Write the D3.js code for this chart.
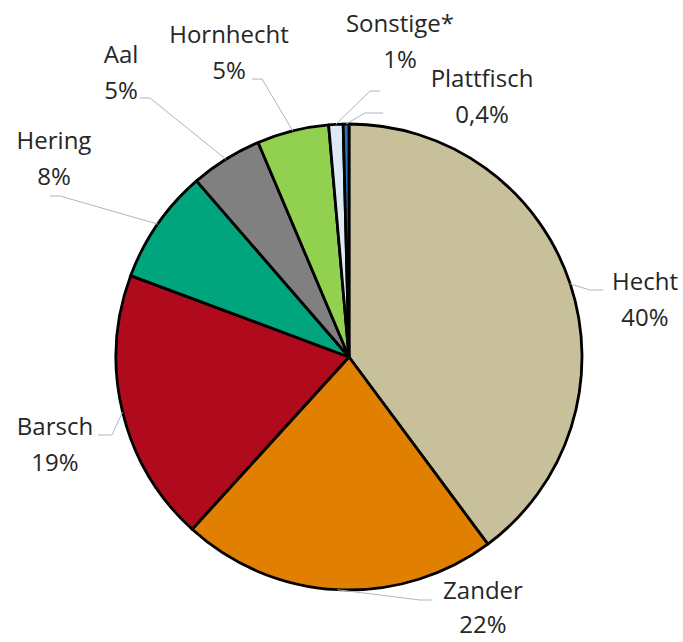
<!DOCTYPE html>
<html>
<head>
<meta charset="utf-8" />
<title>Fischarten</title>
<script src="https://d3js.org/d3.v7.min.js"></script>
<style>
  body { margin: 0; background: #fff; }
  text { font-family: "Open Sans", sans-serif; font-size: 24px; fill: #262626; }
</style>
</head>
<body>
<div id="chart"></div>
<script>
const species = ["Hecht", "Zander", "Barsch", "Hering", "Aal", "Hornhecht", "Sonstige*", "Plattfisch"];
const shares = [40, 22, 19, 8, 5, 5, 1, 0.4];
const shareLabels = ["40%", "22%", "19%", "8%", "5%", "5%", "1%", "0,4%"];

const colors = ["#c8bf9b", "#e07f00", "#b00b1c", "#00a57e", "#808080", "#92d050", "#dde9f5", "#2e75b6"];

// label placement: text centre x, first baseline y, leader elbow and end
const labelLayout = [
  {x: 645, y: 290, elbow: [590, 290], end: [603, 290]},
  {x: 483, y: 599, elbow: [420, 600], end: [432, 600]},
  {x: 55, y: 435, elbow: [112, 435], end: [98, 435]},
  {x: 54, y: 149, elbow: [60, 196], end: [50, 196]},
  {x: 121, y: 63, elbow: [150, 98], end: [140, 98]},
  {x: 229, y: 43, elbow: [262, 79], end: [252, 79]},
  {x: 400, y: 32, elbow: [370, 91], end: [380, 91]},
  {x: 482, y: 87, elbow: [365, 113], end: [383, 113]}
];

const width = 683, height = 642;
const cx = 349, cy = 357, r = 233;

const svg = d3.select("#chart").append("svg")
    .attr("width", width)
    .attr("height", height);

const data = species.map((s, i) => ({name: s, value: shares[i], label: shareLabels[i], i: i}));

const pie = d3.pie().value(d => d.value).sort(null);
const arcs = pie(data);
const arc = d3.arc().innerRadius(0).outerRadius(r);

const g = svg.append("g").attr("transform", `translate(${cx},${cy})`);

g.selectAll("path")
  .data(arcs)
  .join("path")
    .attr("d", arc)
    .attr("fill", d => colors[d.data.i])
    .attr("stroke", "#000")
    .attr("stroke-width", 2.8)
    .attr("stroke-linejoin", "round");

// leader lines
svg.selectAll("polyline")
  .data(arcs)
  .join("polyline")
    .attr("points", d => {
      const a = (d.startAngle + d.endAngle) / 2;
      const L = labelLayout[d.data.i];
      const p = [cx + r * Math.sin(a), cy - r * Math.cos(a)];
      return [p, L.elbow, L.end].map(q => q.join(",")).join(" ");
    })
    .attr("fill", "none")
    .attr("stroke", "#a8b6c8")
    .attr("stroke-width", 1);

const labels = svg.selectAll("text.lab")
  .data(data)
  .join("text")
    .attr("class", "lab")
    .attr("text-anchor", "middle")
    .attr("x", d => labelLayout[d.i].x)
    .attr("y", d => labelLayout[d.i].y);

labels.append("tspan").text(d => d.name);
labels.append("tspan")
    .attr("x", d => labelLayout[d.i].x)
    .attr("dy", d => d.i === 1 ? 34 : 36)
    .text(d => d.label);
</script>
</body>
</html>
